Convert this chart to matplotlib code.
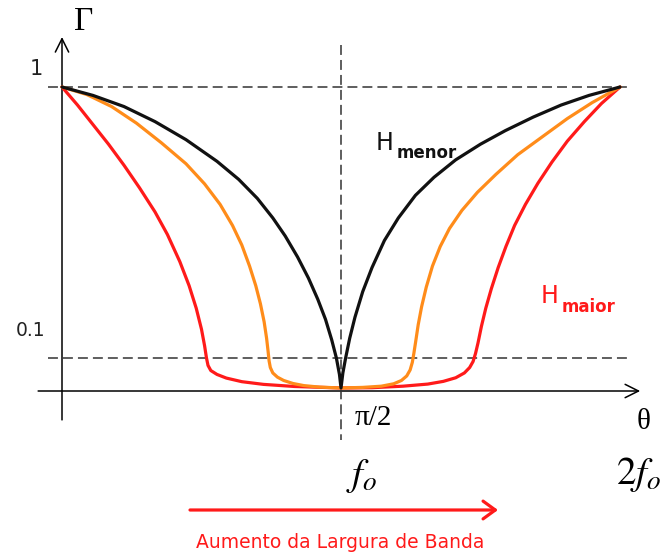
import matplotlib
matplotlib.use("Agg")
import matplotlib.pyplot as plt

# Reflection coefficient |Gamma| versus electrical length theta (degrees)
# for three transformer designs: smaller H (black), intermediate (orange),
# larger H (red).
theta_menor = [0, 10, 20, 30, 40, 50, 57, 63, 68, 72, 76, 79.5, 82.5, 85, 87, 88.5, 89.5, 90,
               90.6, 91.5, 92.8, 94.5, 97, 100, 104, 108.5, 114, 120, 127, 135, 143, 152,
               161, 170, 180]
gamma_menor = [1.0, 0.972, 0.935, 0.885, 0.825, 0.753, 0.693, 0.630, 0.565, 0.505, 0.435,
               0.365, 0.295, 0.228, 0.160, 0.100, 0.045, 0.0,
               0.05, 0.10, 0.165, 0.235, 0.32, 0.40, 0.49, 0.565, 0.64, 0.70, 0.758, 0.81,
               0.855, 0.90, 0.94, 0.972, 1.0]

theta_medio = [0, 8, 16, 24, 32, 40, 46, 51, 55, 58, 60.5, 62.5, 64, 65.2, 66, 66.5, 66.8,
               67.2, 68, 69.5, 71.5, 74.5, 78, 83, 90,
               97, 103, 107, 109.5, 111.2, 112.3, 113, 113.5, 114.1, 114.9, 116, 117.5, 119.5,
               122, 125, 129, 134, 140, 147, 155, 163, 171, 180]
gamma_medio = [1.0, 0.975, 0.935, 0.880, 0.815, 0.745, 0.678, 0.610, 0.540, 0.475, 0.405,
               0.340, 0.280, 0.220, 0.165, 0.120, 0.090, 0.068, 0.050, 0.036, 0.025, 0.015,
               0.008, 0.003, 0.0,
               0.002, 0.006, 0.014, 0.025, 0.040, 0.060, 0.085, 0.115, 0.155, 0.210, 0.270,
               0.335, 0.405, 0.470, 0.530, 0.590, 0.650, 0.710, 0.775, 0.835, 0.895, 0.948, 1.0]

theta_maior = [0, 5, 10, 15, 20, 25, 30, 34, 38, 41, 43.3, 45, 46, 46.6, 47.1, 48, 50, 53,
               58, 65, 75, 90,
               100, 110, 118, 123, 127, 129.8, 131.5, 132.6, 133.4, 134.2, 135.3, 136.7,
               138.5, 140.7, 143.2, 146, 149.5, 153.5, 158, 163, 168.5, 174, 180]
gamma_maior = [1.0, 0.94, 0.875, 0.81, 0.74, 0.665, 0.585, 0.51, 0.42, 0.34, 0.265, 0.195,
               0.14, 0.10, 0.075, 0.058, 0.045, 0.033, 0.021, 0.012, 0.005, 0.0,
               0.001, 0.006, 0.013, 0.022, 0.034, 0.050, 0.068, 0.088, 0.115, 0.150, 0.205,
               0.265, 0.330, 0.400, 0.470, 0.540, 0.610, 0.680, 0.750, 0.820, 0.885, 0.945, 1.0]

gamma_levels = [1.0, 0.1]
level_labels = ["1", "0.1"]

COLORS = {
    'menor': '#111111',
    'medio': '#ff8c1a',
    'maior': '#ff1a1a',
    'dash': '#333333',
}

W, H = 660, 558


def fx(px):
    return px / W


def fy(py):
    return 1 - py / H


plt.rcParams['mathtext.fontset'] = 'stix'

fig = plt.figure(figsize=(W / 100, H / 100), dpi=100, facecolor='white')
ax = fig.add_axes([0, 0, 1, 1])
ax.set_xlim(-20, 192.9)
ax.set_ylim(-0.5648, 1.289)
ax.axis('off')

# axes with open arrow heads
axis_arrow = dict(arrowstyle='->,head_length=0.6,head_width=0.3', lw=1.1,
                  color='black', shrinkA=0, shrinkB=0, mutation_scale=16)
ax.annotate('', xy=(0, 1.166), xytext=(0, -0.106), arrowprops=axis_arrow, zorder=1)
ax.annotate('', xy=(186.5, -0.01), xytext=(-7.7, -0.01), arrowprops=axis_arrow, zorder=1)

# reference levels and the centre frequency
dash = (0, (6.5, 3.3))
for g in gamma_levels:
    ax.plot([-4.5, 183], [g, g], color=COLORS['dash'], lw=1.1, linestyle=dash, zorder=1)
ax.plot([90, 90], [1.14, -0.173], color=COLORS['dash'], lw=1.1, linestyle=dash, zorder=1)

# response curves
for th, g, key in [(theta_maior, gamma_maior, 'maior'),
                   (theta_medio, gamma_medio, 'medio'),
                   (theta_menor, gamma_menor, 'menor')]:
    ax.plot(th, g, color=COLORS[key], lw=2.3, solid_joinstyle='round',
            solid_capstyle='round', zorder=3)

# labels
serif = 'Liberation Serif'
fig.text(fx(84), fy(22), 'Γ', fontsize=24, family=serif, ha='center', va='center')
fig.text(fx(36), fy(69), level_labels[0], fontsize=15, ha='center', va='center', color='#222222')
fig.text(fx(31), fy(330), level_labels[1], fontsize=13.5, ha='center', va='center', color='#222222')
fig.text(fx(373), fy(418), 'π/2', fontsize=21, family=serif, ha='center', va='center')
fig.text(fx(644), fy(422), 'θ', fontsize=21, family=serif, ha='center', va='center')
fig.text(fx(362), fy(476), r'$f_o$', fontsize=28, ha='center', va='center')
fig.text(fx(638), fy(474), r'$\mathit{2}f_o$', fontsize=28, ha='center', va='center')

fig.text(fx(376), fy(150), 'H', fontsize=17, color=COLORS['menor'], ha='left', va='baseline')
fig.text(fx(397), fy(158), 'menor', fontsize=12, fontweight='bold', color=COLORS['menor'],
         ha='left', va='baseline')
fig.text(fx(541), fy(303), 'H', fontsize=17, color=COLORS['maior'], ha='left', va='baseline')
fig.text(fx(562), fy(312), 'maior', fontsize=12, fontweight='bold', color=COLORS['maior'],
         ha='left', va='baseline')

# bandwidth arrow
ax.annotate('', xy=(fx(498), fy(510)), xytext=(fx(190), fy(510)),
            xycoords='figure fraction', textcoords='figure fraction',
            arrowprops=dict(arrowstyle='->,head_length=0.55,head_width=0.4', lw=2.3,
                            color=COLORS['maior'], shrinkA=0, shrinkB=0, mutation_scale=16))
fig.text(fx(340), fy(543), 'Aumento da Largura de Banda', fontsize=13.5,
         color=COLORS['maior'], ha='center', va='center')

fig.savefig('out.png', dpi=100, facecolor='white')
